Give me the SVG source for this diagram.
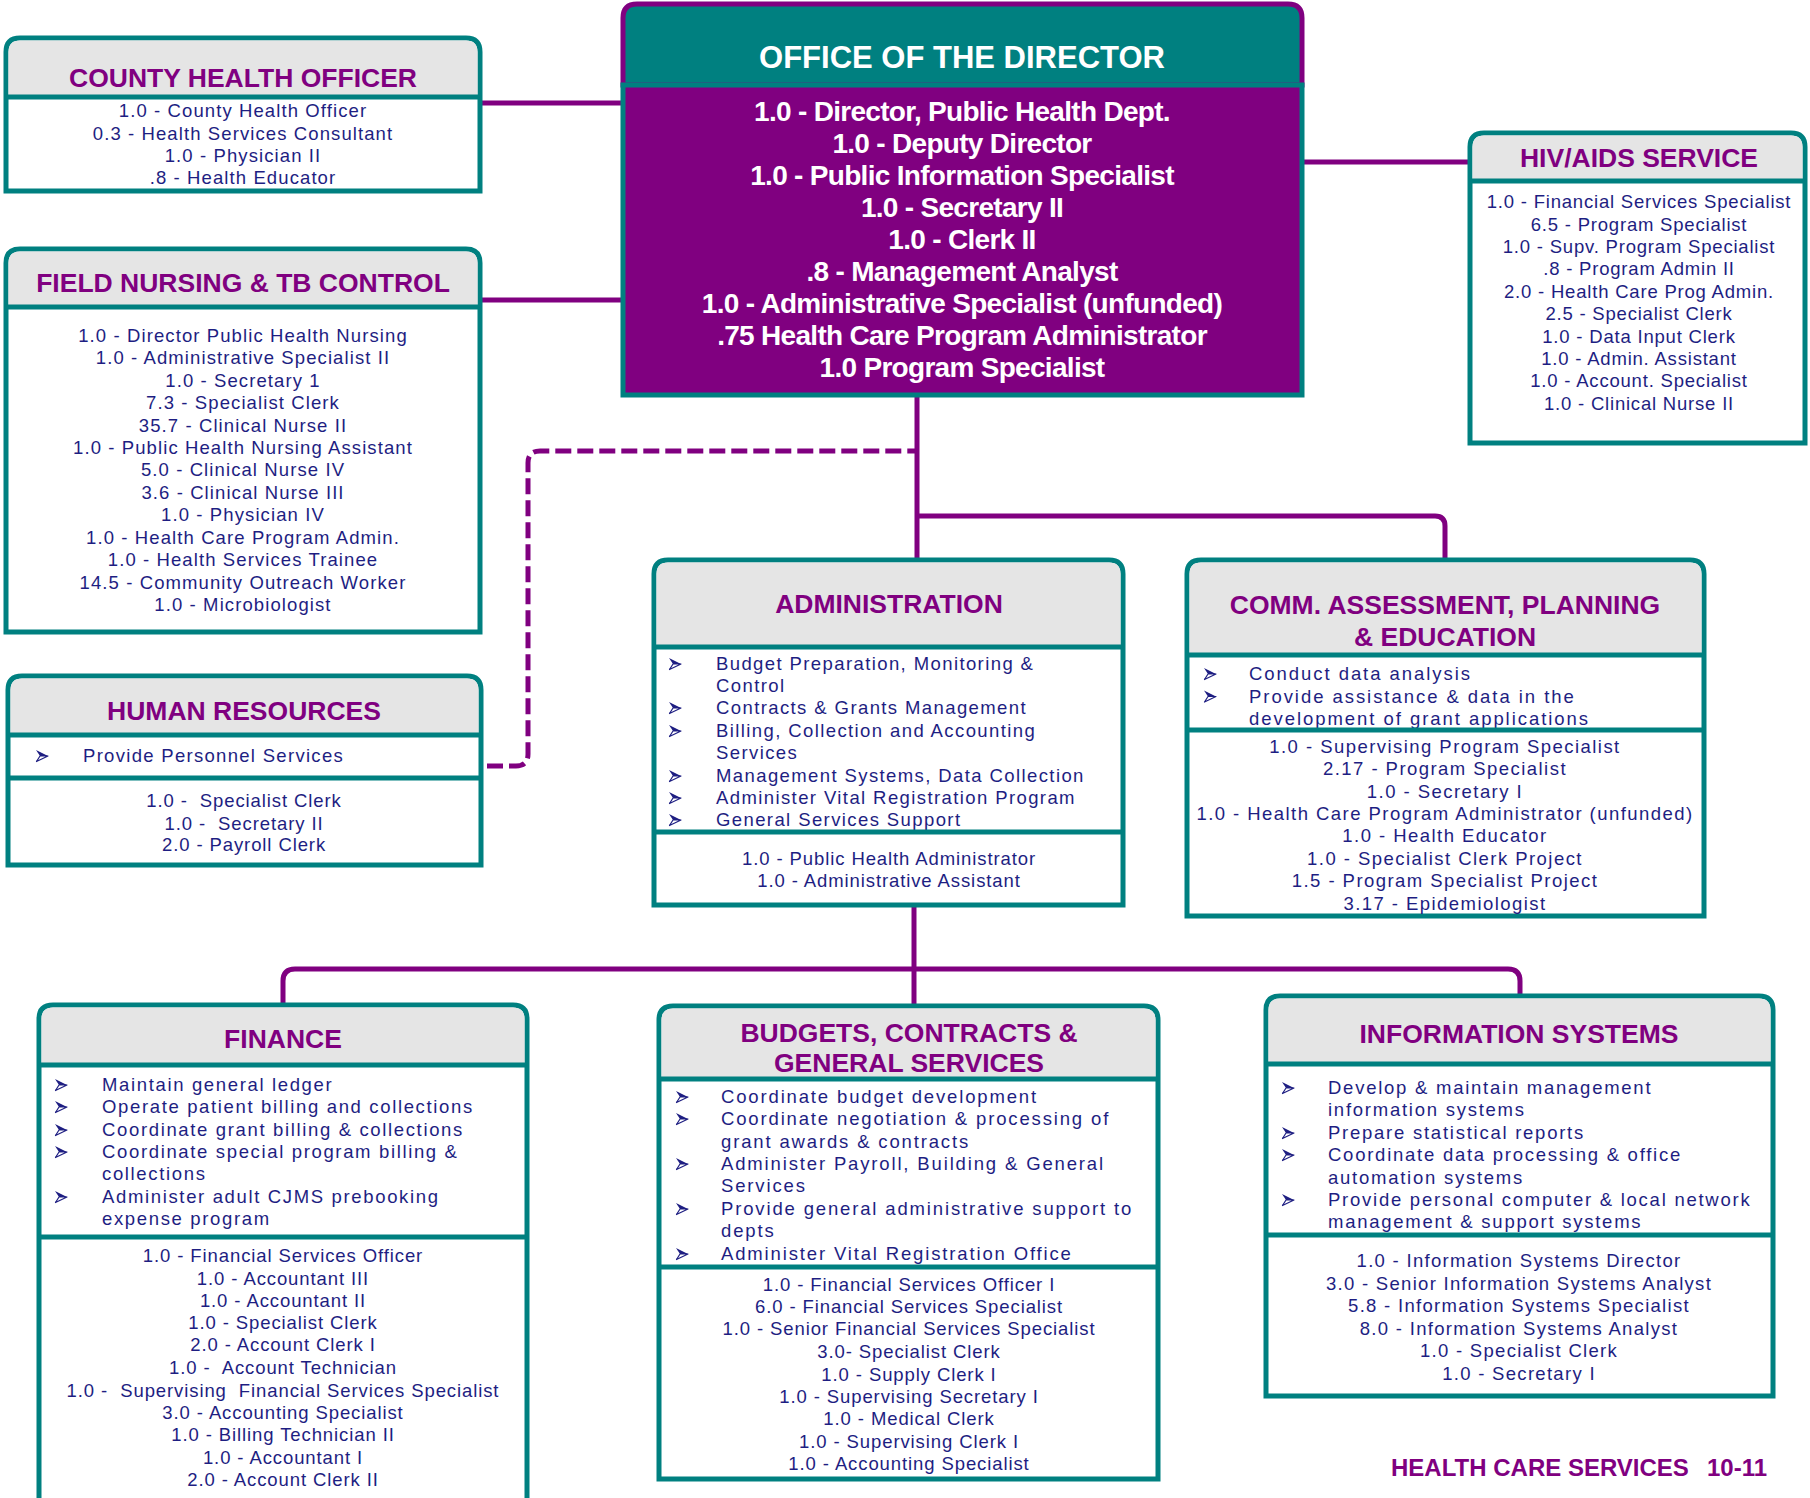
<svg xmlns="http://www.w3.org/2000/svg" width="1810" height="1498" viewBox="0 0 1810 1498">
<style>
.box{fill:#fff;stroke:#008080;stroke-width:5}
.hdr{fill:#e5e5e5}
.dv{stroke:#008080;stroke-width:5}
.t{font-family:"Liberation Sans",Arial,sans-serif;font-weight:bold;font-size:26.5px;fill:#800080;text-anchor:middle}
.s{font-family:"Liberation Sans",Arial,sans-serif;font-size:18.5px;fill:#1e1e82;text-anchor:middle;letter-spacing:0.9px}
.b{font-family:"Liberation Sans",Arial,sans-serif;font-size:18.5px;fill:#1e1e82;letter-spacing:1.5px}
.dt{font-family:"Liberation Sans",Arial,sans-serif;font-weight:bold;font-size:28px;fill:#fff;text-anchor:middle;letter-spacing:-0.7px}
.dh{font-family:"Liberation Sans",Arial,sans-serif;font-weight:bold;font-size:31px;fill:#fff;text-anchor:middle}
.ft{font-family:"Liberation Sans",Arial,sans-serif;font-weight:bold;font-size:24px;fill:#800080}
.c{stroke:#800080;stroke-width:5;fill:none}
.d{stroke:#800080;stroke-width:5;fill:none;stroke-dasharray:16 6}
#county-health-officer .s,#field-nursing .s{letter-spacing:1.1px}
#hiv-aids .s{letter-spacing:0.8px}
#comm-assessment .s{letter-spacing:1.45px}
#information-systems .s{letter-spacing:1.3px}
#administration .b{letter-spacing:1.4px}
#finance .b{letter-spacing:1.65px}
#budgets .b{letter-spacing:1.85px}
#information-systems .b{letter-spacing:1.75px}
#comm-assessment .b{letter-spacing:1.95px}
#human-resources .b{letter-spacing:1.3px}
</style>
<defs>
<g id="arr">
<path d="M0,0 L12,6 L4,6 Z" fill="#1e1e82"/>
<path d="M4,6 L12,6 L0.5,11.5 Z" fill="#fff" stroke="#1e1e82" stroke-width="1.2" stroke-linejoin="round"/>
</g>
</defs>
<rect width="1810" height="1498" fill="#fff"/>
<g id="connectors">
<path class="c" d="M480,103 H623"/>
<path class="c" d="M480,300 H623"/>
<path class="c" d="M1302,162 H1470"/>
<path class="c" d="M917,395 V560"/>
<path class="c" d="M917,516 H1435 Q1445,516 1445,526 V560"/>
<path class="d" d="M487,766 H516 Q528,766 528,754 V463 Q528,451 540,451 H917"/>
<path class="c" d="M914,905 V1006"/>
<path class="c" d="M283,1005 V981 Q283,969 295,969 H1508 Q1520,969 1520,981 V996"/>
</g>
<g id="director">
<path d="M623,85 V18 Q623,4 637,4 H1288 Q1302,4 1302,18 V85 Z" fill="#008080" stroke="#800080" stroke-width="5"/>
<rect x="623" y="85" width="679" height="310" fill="#800080" stroke="#008080" stroke-width="5"/>
<text class="dh" x="962" y="68">OFFICE OF THE DIRECTOR</text>
<text class="dt" x="962" y="121">1.0 - Director, Public Health Dept.</text>
<text class="dt" x="962" y="153">1.0 - Deputy Director</text>
<text class="dt" x="962" y="185">1.0 - Public Information Specialist</text>
<text class="dt" x="962" y="217">1.0 - Secretary II</text>
<text class="dt" x="962" y="249">1.0 - Clerk II</text>
<text class="dt" x="962" y="281">.8 - Management Analyst</text>
<text class="dt" x="962" y="313">1.0 - Administrative Specialist (unfunded)</text>
<text class="dt" x="962" y="345">.75 Health Care Program Administrator</text>
<text class="dt" x="962" y="377">1.0 Program Specialist</text>
</g>
<g id="county-health-officer">
<path class="box" d="M6,191 V52 Q6,38 20,38 H466 Q480,38 480,52 V191 Z"/>
<path class="hdr" d="M8.5,97 V52 Q8.5,40.5 20,40.5 H466 Q477.5,40.5 477.5,52 V97 Z"/>
<text class="t" x="243" y="86.5">COUNTY HEALTH OFFICER</text>
<text class="s" x="243" y="117">1.0 - County Health Officer</text>
<text class="s" x="243" y="140">0.3 - Health Services Consultant</text>
<text class="s" x="243" y="162">1.0 - Physician II</text>
<text class="s" x="243" y="184">.8 - Health Educator</text>
<line class="dv" x1="6" y1="97" x2="480" y2="97"/>
</g>
<g id="field-nursing">
<path class="box" d="M6,632 V263 Q6,249 20,249 H466 Q480,249 480,263 V632 Z"/>
<path class="hdr" d="M8.5,307 V263 Q8.5,251.5 20,251.5 H466 Q477.5,251.5 477.5,263 V307 Z"/>
<text class="t" x="243" y="291.5">FIELD NURSING &amp; TB CONTROL</text>
<text class="s" x="243" y="342">1.0 - Director Public Health Nursing</text>
<text class="s" x="243" y="364">1.0 - Administrative Specialist II</text>
<text class="s" x="243" y="387">1.0 - Secretary 1</text>
<text class="s" x="243" y="409">7.3 - Specialist Clerk</text>
<text class="s" x="243" y="432">35.7 - Clinical Nurse II</text>
<text class="s" x="243" y="454">1.0 - Public Health Nursing Assistant</text>
<text class="s" x="243" y="476">5.0 - Clinical Nurse IV</text>
<text class="s" x="243" y="499">3.6 - Clinical Nurse III</text>
<text class="s" x="243" y="521">1.0 - Physician IV</text>
<text class="s" x="243" y="544">1.0 - Health Care Program Admin.</text>
<text class="s" x="243" y="566">1.0 - Health Services Trainee</text>
<text class="s" x="243" y="589">14.5 - Community Outreach Worker</text>
<text class="s" x="243" y="611">1.0 - Microbiologist</text>
<line class="dv" x1="6" y1="307" x2="480" y2="307"/>
</g>
<g id="human-resources">
<path class="box" d="M8,865 V690 Q8,676 22,676 H467 Q481,676 481,690 V865 Z"/>
<path class="hdr" d="M10.5,735 V690 Q10.5,678.5 22,678.5 H467 Q478.5,678.5 478.5,690 V735 Z"/>
<text class="t" x="244" y="719.5">HUMAN RESOURCES</text>
<use href="#arr" x="36" y="750"/>
<text class="b" x="83" y="762">Provide Personnel Services</text>
<text class="s" x="244" y="807">1.0 -&#160; Specialist Clerk</text>
<text class="s" x="244" y="830">1.0 -&#160; Secretary II</text>
<text class="s" x="244" y="851">2.0 - Payroll Clerk</text>
<line class="dv" x1="8" y1="735" x2="481" y2="735"/>
<line class="dv" x1="8" y1="778" x2="481" y2="778"/>
</g>
<g id="hiv-aids">
<path class="box" d="M1470,443 V147 Q1470,133 1484,133 H1791 Q1805,133 1805,147 V443 Z"/>
<path class="hdr" d="M1472.5,181 V147 Q1472.5,135.5 1484,135.5 H1791 Q1802.5,135.5 1802.5,147 V181 Z"/>
<text class="t" x="1639" y="166.5">HIV/AIDS SERVICE</text>
<text class="s" x="1639" y="208">1.0 - Financial Services Specialist</text>
<text class="s" x="1639" y="231">6.5 - Program Specialist</text>
<text class="s" x="1639" y="253">1.0 - Supv. Program Specialist</text>
<text class="s" x="1639" y="275">.8 - Program Admin II</text>
<text class="s" x="1639" y="298">2.0 - Health Care Prog Admin.</text>
<text class="s" x="1639" y="320">2.5 - Specialist Clerk</text>
<text class="s" x="1639" y="343">1.0 - Data Input Clerk</text>
<text class="s" x="1639" y="365">1.0 - Admin. Assistant</text>
<text class="s" x="1639" y="387">1.0 - Account. Specialist</text>
<text class="s" x="1639" y="410">1.0 - Clinical Nurse II</text>
<line class="dv" x1="1470" y1="181" x2="1805" y2="181"/>
</g>
<g id="administration">
<path class="box" d="M654,905 V574 Q654,560 668,560 H1109 Q1123,560 1123,574 V905 Z"/>
<path class="hdr" d="M656.5,647 V574 Q656.5,562.5 668,562.5 H1109 Q1120.5,562.5 1120.5,574 V647 Z"/>
<text class="t" x="889" y="612.5">ADMINISTRATION</text>
<use href="#arr" x="669" y="658"/>
<text class="b" x="716" y="670">Budget Preparation, Monitoring &amp;</text>
<text class="b" x="716" y="692">Control</text>
<use href="#arr" x="669" y="702"/>
<text class="b" x="716" y="714">Contracts &amp; Grants Management</text>
<use href="#arr" x="669" y="725"/>
<text class="b" x="716" y="737">Billing, Collection and Accounting</text>
<text class="b" x="716" y="759">Services</text>
<use href="#arr" x="669" y="770"/>
<text class="b" x="716" y="782">Management Systems, Data Collection</text>
<use href="#arr" x="669" y="792"/>
<text class="b" x="716" y="804">Administer Vital Registration Program</text>
<use href="#arr" x="669" y="814"/>
<text class="b" x="716" y="826">General Services Support</text>
<text class="s" x="889" y="865">1.0 - Public Health Administrator</text>
<text class="s" x="889" y="887">1.0 - Administrative Assistant</text>
<line class="dv" x1="654" y1="647" x2="1123" y2="647"/>
<line class="dv" x1="654" y1="832" x2="1123" y2="832"/>
</g>
<g id="comm-assessment">
<path class="box" d="M1187,916 V574 Q1187,560 1201,560 H1690 Q1704,560 1704,574 V916 Z"/>
<path class="hdr" d="M1189.5,655 V574 Q1189.5,562.5 1201,562.5 H1690 Q1701.5,562.5 1701.5,574 V655 Z"/>
<text class="t" x="1445" y="614">COMM. ASSESSMENT, PLANNING</text>
<text class="t" x="1445" y="646">&amp; EDUCATION</text>
<use href="#arr" x="1204" y="668"/>
<text class="b" x="1249" y="680">Conduct data analysis</text>
<use href="#arr" x="1204" y="690.5"/>
<text class="b" x="1249" y="702.5">Provide assistance &amp; data in the</text>
<text class="b" x="1249" y="725">development of grant applications</text>
<text class="s" x="1445" y="753">1.0 - Supervising Program Specialist</text>
<text class="s" x="1445" y="775">2.17 - Program Specialist</text>
<text class="s" x="1445" y="798">1.0 - Secretary I</text>
<text class="s" x="1445" y="820">1.0 - Health Care Program Administrator (unfunded)</text>
<text class="s" x="1445" y="842">1.0 - Health Educator</text>
<text class="s" x="1445" y="865">1.0 - Specialist Clerk Project</text>
<text class="s" x="1445" y="887">1.5 - Program Specialist Project</text>
<text class="s" x="1445" y="910">3.17 - Epidemiologist</text>
<line class="dv" x1="1187" y1="655" x2="1704" y2="655"/>
<line class="dv" x1="1187" y1="730" x2="1704" y2="730"/>
</g>
<g id="finance">
<path class="box" d="M39,1510 V1019 Q39,1005 53,1005 H513 Q527,1005 527,1019 V1510 Z"/>
<path class="hdr" d="M41.5,1065 V1019 Q41.5,1007.5 53,1007.5 H513 Q524.5,1007.5 524.5,1019 V1065 Z"/>
<text class="t" x="283" y="1047.5">FINANCE</text>
<use href="#arr" x="55" y="1079"/>
<text class="b" x="102" y="1091">Maintain general ledger</text>
<use href="#arr" x="55" y="1101"/>
<text class="b" x="102" y="1113">Operate patient billing and collections</text>
<use href="#arr" x="55" y="1124"/>
<text class="b" x="102" y="1136">Coordinate grant billing &amp; collections</text>
<use href="#arr" x="55" y="1146"/>
<text class="b" x="102" y="1158">Coordinate special program billing &amp;</text>
<text class="b" x="102" y="1180">collections</text>
<use href="#arr" x="55" y="1191"/>
<text class="b" x="102" y="1203">Administer adult CJMS prebooking</text>
<text class="b" x="102" y="1225">expense program</text>
<text class="s" x="283" y="1262">1.0 - Financial Services Officer</text>
<text class="s" x="283" y="1285">1.0 - Accountant III</text>
<text class="s" x="283" y="1307">1.0 - Accountant II</text>
<text class="s" x="283" y="1329">1.0 - Specialist Clerk</text>
<text class="s" x="283" y="1351">2.0 - Account Clerk I</text>
<text class="s" x="283" y="1374">1.0 -&#160; Account Technician</text>
<text class="s" x="283" y="1397">1.0 -&#160; Supervising&#160; Financial Services Specialist</text>
<text class="s" x="283" y="1419">3.0 - Accounting Specialist</text>
<text class="s" x="283" y="1441">1.0 - Billing Technician II</text>
<text class="s" x="283" y="1464">1.0 - Accountant I</text>
<text class="s" x="283" y="1486">2.0 - Account Clerk II</text>
<line class="dv" x1="39" y1="1065" x2="527" y2="1065"/>
<line class="dv" x1="39" y1="1237" x2="527" y2="1237"/>
</g>
<g id="budgets">
<path class="box" d="M659,1479 V1020 Q659,1006 673,1006 H1144 Q1158,1006 1158,1020 V1479 Z"/>
<path class="hdr" d="M661.5,1079 V1020 Q661.5,1008.5 673,1008.5 H1144 Q1155.5,1008.5 1155.5,1020 V1079 Z"/>
<text class="t" x="909" y="1041.5">BUDGETS, CONTRACTS &amp;</text>
<text class="t" x="909" y="1071.5">GENERAL SERVICES</text>
<use href="#arr" x="676" y="1091"/>
<text class="b" x="721" y="1103">Coordinate budget development</text>
<use href="#arr" x="676" y="1113"/>
<text class="b" x="721" y="1125">Coordinate negotiation &amp; processing of</text>
<text class="b" x="721" y="1148">grant awards &amp; contracts</text>
<use href="#arr" x="676" y="1158"/>
<text class="b" x="721" y="1170">Administer Payroll, Building &amp; General</text>
<text class="b" x="721" y="1192">Services</text>
<use href="#arr" x="676" y="1203"/>
<text class="b" x="721" y="1215">Provide general administrative support to</text>
<text class="b" x="721" y="1237">depts</text>
<use href="#arr" x="676" y="1248"/>
<text class="b" x="721" y="1260">Administer Vital Registration Office</text>
<text class="s" x="909" y="1291">1.0 - Financial Services Officer I</text>
<text class="s" x="909" y="1313">6.0 - Financial Services Specialist</text>
<text class="s" x="909" y="1335">1.0 - Senior Financial Services Specialist</text>
<text class="s" x="909" y="1358">3.0- Specialist Clerk</text>
<text class="s" x="909" y="1381">1.0 - Supply Clerk I</text>
<text class="s" x="909" y="1403">1.0 - Supervising Secretary I</text>
<text class="s" x="909" y="1425">1.0 - Medical Clerk</text>
<text class="s" x="909" y="1448">1.0 - Supervising Clerk I</text>
<text class="s" x="909" y="1470">1.0 - Accounting Specialist</text>
<line class="dv" x1="659" y1="1079" x2="1158" y2="1079"/>
<line class="dv" x1="659" y1="1267" x2="1158" y2="1267"/>
</g>
<g id="information-systems">
<path class="box" d="M1266,1396 V1010 Q1266,996 1280,996 H1759 Q1773,996 1773,1010 V1396 Z"/>
<path class="hdr" d="M1268.5,1064 V1010 Q1268.5,998.5 1280,998.5 H1759 Q1770.5,998.5 1770.5,1010 V1064 Z"/>
<text class="t" x="1519" y="1042.5">INFORMATION SYSTEMS</text>
<use href="#arr" x="1282" y="1082"/>
<text class="b" x="1328" y="1094">Develop &amp; maintain management</text>
<text class="b" x="1328" y="1116">information systems</text>
<use href="#arr" x="1282" y="1127"/>
<text class="b" x="1328" y="1139">Prepare statistical reports</text>
<use href="#arr" x="1282" y="1149"/>
<text class="b" x="1328" y="1161">Coordinate data processing &amp; office</text>
<text class="b" x="1328" y="1184">automation systems</text>
<use href="#arr" x="1282" y="1194"/>
<text class="b" x="1328" y="1206">Provide personal computer &amp; local network</text>
<text class="b" x="1328" y="1228">management &amp; support systems</text>
<text class="s" x="1519" y="1267">1.0 - Information Systems Director</text>
<text class="s" x="1519" y="1290">3.0 - Senior Information Systems Analyst</text>
<text class="s" x="1519" y="1312">5.8 - Information Systems Specialist</text>
<text class="s" x="1519" y="1335">8.0 - Information Systems Analyst</text>
<text class="s" x="1519" y="1357">1.0 - Specialist Clerk</text>
<text class="s" x="1519" y="1380">1.0 - Secretary I</text>
<line class="dv" x1="1266" y1="1064" x2="1773" y2="1064"/>
<line class="dv" x1="1266" y1="1235" x2="1773" y2="1235"/>
</g>
<g id="footer">
<text class="ft" x="1391" y="1476">HEALTH CARE SERVICES</text>
<text class="ft" x="1707" y="1476">10-11</text>
</g>
</svg>
